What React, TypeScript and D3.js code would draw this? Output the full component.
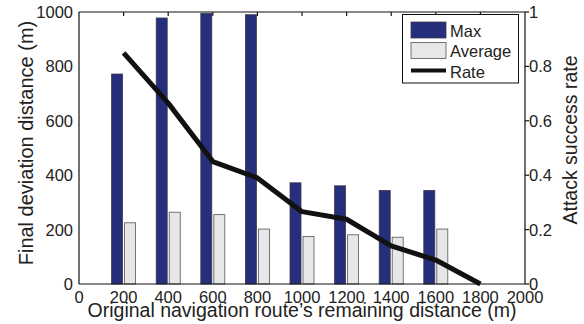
import { useEffect, useRef } from "react";
import * as d3 from "d3";

const distances = [200, 400, 600, 800, 1000, 1200, 1400, 1600, 1800];
const maxDeviation = [772, 978, 995, 990, 372, 361, 344, 344, 0];
const avgDeviation = [225, 264, 255, 202, 175, 181, 172, 202, 0];
const successRate = [0.85, 0.665, 0.45, 0.39, 0.266, 0.238, 0.14, 0.088, 0];
const xTicks = [0, 200, 400, 600, 800, 1000, 1200, 1400, 1600, 1800, 2000];
const leftTicks = [0, 200, 400, 600, 800, 1000];
const rightTicks = [0, 0.2, 0.4, 0.6, 0.8, 1];

const W = 584;
const H = 324;
const FONT = "'Liberation Sans', Arial, Helvetica, sans-serif";
const TEXT = "#222";

export default function App() {
  const svgRef = useRef<SVGSVGElement | null>(null);

  useEffect(() => {
    document.body.style.margin = "0";
    if (!svgRef.current) return;
    const svg = d3.select(svgRef.current);
    svg.selectAll("*").remove();

    const m = { left: 79, right: 525, top: 12, bottom: 284 };
    const x = d3.scaleLinear().domain([0, 2000]).range([m.left, m.right]);
    const yL = d3.scaleLinear().domain([0, 1000]).range([m.bottom, m.top]);
    const yR = d3.scaleLinear().domain([0, 1]).range([m.bottom, m.top]);

    const barW = 11;
    const gap = 1;

    // bars
    const groups = svg.append("g");
    distances.forEach((d, i) => {
      groups
        .append("rect")
        .attr("x", x(d) - gap - barW)
        .attr("y", yL(maxDeviation[i]))
        .attr("width", barW)
        .attr("height", yL(0) - yL(maxDeviation[i]))
        .attr("fill", "#252f7c")
        .attr("stroke", "#3a3a50")
        .attr("stroke-width", 0.8);
      groups
        .append("rect")
        .attr("x", x(d) + gap)
        .attr("y", yL(avgDeviation[i]))
        .attr("width", barW)
        .attr("height", yL(0) - yL(avgDeviation[i]))
        .attr("fill", "#e6e7e9")
        .attr("stroke", "#555")
        .attr("stroke-width", 0.8);
    });

    // rate line
    const line = d3
      .line<number>()
      .x((_, i) => x(distances[i]))
      .y((v) => yR(v));
    svg
      .append("path")
      .datum(successRate)
      .attr("d", line)
      .attr("fill", "none")
      .attr("stroke", "#111")
      .attr("stroke-width", 5)
      .attr("stroke-linejoin", "round");

    // frame
    const frame = svg.append("g").attr("stroke", "#111").attr("stroke-width", 1.2);
    frame.append("line").attr("x1", m.left).attr("x2", m.right).attr("y1", m.top).attr("y2", m.top);
    frame.append("line").attr("x1", m.left).attr("x2", m.right).attr("y1", m.bottom).attr("y2", m.bottom);
    frame.append("line").attr("x1", m.left).attr("x2", m.left).attr("y1", m.top).attr("y2", m.bottom);
    frame.append("line").attr("x1", m.right).attr("x2", m.right).attr("y1", m.top).attr("y2", m.bottom);

    // top ticks (inward)
    xTicks.slice(1, -1).forEach((t) => {
      frame.append("line").attr("x1", x(t)).attr("x2", x(t)).attr("y1", m.top).attr("y2", m.top + 4);
    });
    // right ticks (outward)
    rightTicks.forEach((t) => {
      frame.append("line").attr("x1", m.right).attr("x2", m.right + 4).attr("y1", yR(t)).attr("y2", yR(t));
    });

    const txt = svg.append("g").attr("font-family", FONT).attr("fill", TEXT);

    xTicks.forEach((t) => {
      txt.append("text").attr("x", x(t)).attr("y", 303).attr("text-anchor", "middle").attr("font-size", 16.5).text(t);
    });
    leftTicks.forEach((t) => {
      txt.append("text").attr("x", 73).attr("y", yL(t) + 6).attr("text-anchor", "end").attr("font-size", 16.5).text(t);
    });
    rightTicks.forEach((t) => {
      txt.append("text").attr("x", 529).attr("y", yR(t) + 6).attr("text-anchor", "start").attr("font-size", 16.5).text(t);
    });

    txt
      .append("text")
      .attr("x", 302)
      .attr("y", 317)
      .attr("text-anchor", "middle")
      .attr("font-size", 19.5)
      .text("Original navigation route\u2019s remaining distance (m)");
    txt
      .append("text")
      .attr("transform", `translate(33,143) rotate(-90)`)
      .attr("text-anchor", "middle")
      .attr("font-size", 20)
      .text("Final deviation distance (m)");
    txt
      .append("text")
      .attr("transform", `translate(577,140) rotate(-90)`)
      .attr("text-anchor", "middle")
      .attr("font-size", 19.5)
      .text("Attack success rate");

    // legend
    const lg = svg.append("g");
    lg.append("rect")
      .attr("x", 402.5)
      .attr("y", 14.5)
      .attr("width", 116)
      .attr("height", 68.5)
      .attr("fill", "white")
      .attr("stroke", "#111")
      .attr("stroke-width", 1);
    const items = [
      { label: "Max", y: 36.7 },
      { label: "Average", y: 57.3 },
      { label: "Rate", y: 77.5 },
    ];
    lg.append("rect").attr("x", 411).attr("y", 22).attr("width", 35).attr("height", 16)
      .attr("fill", "#252f7c").attr("stroke", "#3a3a50").attr("stroke-width", 0.8);
    lg.append("rect").attr("x", 411).attr("y", 42.5).attr("width", 35).attr("height", 16)
      .attr("fill", "#e6e7e9").attr("stroke", "#555").attr("stroke-width", 0.8);
    lg.append("line").attr("x1", 411).attr("x2", 446).attr("y1", 70.5).attr("y2", 70.5)
      .attr("stroke", "#111").attr("stroke-width", 4);
    items.forEach((it) => {
      lg.append("text")
        .attr("x", 450)
        .attr("y", it.y)
        .attr("font-family", FONT)
        .attr("font-size", 16.5)
        .attr("fill", TEXT)
        .text(it.label);
    });
  }, []);

  return (
    <svg
      ref={svgRef}
      width={W}
      height={H}
      style={{ display: "block", background: "white" }}
    />
  );
}
